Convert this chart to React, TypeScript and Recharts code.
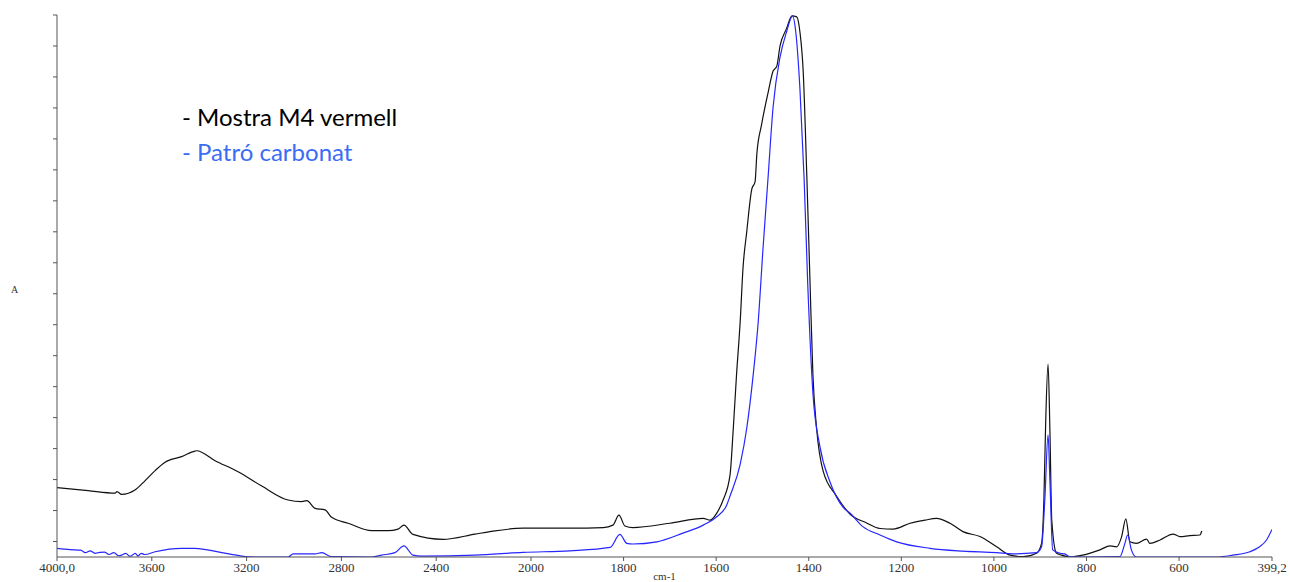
import { Line, LineChart, XAxis, YAxis } from "recharts";

// wavenumber axis: 4000-2000 is drawn compressed, like the instrument printout
const HIGH_SCALE = 0.512;
const toU = (wn: number) =>
  wn >= 2000 ? (4000 - wn) * HIGH_SCALE : 2000 * HIGH_SCALE + (2000 - wn);
const U_MAX = toU(399.2);

const xTickWn = [4000, 3600, 3200, 2800, 2400, 2000, 1800, 1600, 1400, 1200, 1000, 800, 600, 399.2];
const xTickLabels = ["4000,0", "3600", "3200", "2800", "2400", "2000", "1800", "1600", "1400", "1200", "1000", "800", "600", "399,2"];
const yTicks = [0.05, 0.15, 0.25, 0.35, 0.45, 0.55, 0.65, 0.75, 0.85, 0.95, 1.05, 1.15, 1.25, 1.35, 1.45, 1.55, 1.65, 1.75];

// Mostra M4 vermell
const sampleWn = [
  4000, 3869, 3755, 3747, 3727, 3671, 3629, 3586, 3544, 3474, 3418, 3411, 3333, 3236, 3136, 3025, 2968, 2946,
  2911, 2869, 2841, 2772, 2672, 2603, 2561, 2536, 2498, 2371, 2236, 2173, 2034, 1916, 1844, 1823, 1810, 1797,
  1780, 1700, 1628, 1613, 1599, 1585, 1570, 1563, 1556, 1548, 1542, 1534, 1523, 1516, 1512, 1502, 1488, 1477,
  1469, 1462, 1448, 1436, 1426, 1419, 1412, 1404, 1397, 1391, 1383, 1369, 1340, 1311, 1275, 1246, 1218, 1181,
  1149, 1124, 1095, 1067, 1030, 994, 965, 937, 908, 897, 892, 888, 883, 879, 875, 865, 854, 836, 808, 771, 749,
  735, 724, 715, 706, 692, 670, 663, 641, 613, 598, 577, 555, 551,
];
const sampleAbs = [
  0.224, 0.214, 0.206, 0.211, 0.202, 0.216, 0.246, 0.279, 0.306, 0.324, 0.342, 0.343, 0.311, 0.275, 0.229, 0.184, 0.179, 0.182,
  0.157, 0.152, 0.128, 0.109, 0.085, 0.085, 0.09, 0.103, 0.073, 0.057, 0.074, 0.082, 0.093, 0.093, 0.095, 0.103, 0.135, 0.1,
  0.095, 0.109, 0.125, 0.119, 0.141, 0.184, 0.265, 0.415, 0.588, 0.762, 0.933, 1.049, 1.188, 1.211, 1.303, 1.395, 1.498, 1.569,
  1.585, 1.65, 1.706, 1.747, 1.744, 1.695, 1.569, 1.222, 0.875, 0.588, 0.415, 0.278, 0.197, 0.139, 0.11, 0.092, 0.09, 0.109,
  0.119, 0.125, 0.109, 0.082, 0.066, 0.033, 0.006, 0.001, 0.012, 0.044, 0.184, 0.442, 0.623, 0.41, 0.119, 0.013, 0.006, 0, 0.006, 0.023, 0.036,
  0.033, 0.066, 0.123, 0.049, 0.044, 0.058, 0.044, 0.055, 0.074, 0.066, 0.069, 0.071, 0.084,
];

// Patró carbonat
const refWn = [
  4000, 3945, 3900, 3880, 3860, 3840, 3819, 3800, 3780, 3760, 3740, 3727, 3710, 3692, 3670, 3658, 3645, 3630,
  3586, 3474, 3418, 3305, 3221, 3165, 3025, 3004, 2911, 2883, 2841,
  2672, 2630, 2574, 2536, 2498, 2461, 2236, 2034, 1916, 1829, 1808, 1793, 1780, 1728, 1672, 1628, 1599, 1577,
  1570, 1548, 1534, 1520, 1509, 1499, 1488, 1477, 1462, 1448, 1435, 1428, 1419, 1410, 1402, 1391, 1376, 1354,
  1326, 1311, 1283, 1246, 1210, 1138, 1067, 994, 959, 908, 897, 890, 883, 879, 873, 857, 847, 836, 808, 728,
  717, 711, 703, 692, 519, 484, 447, 426, 411, 399.2,
];
const refAbs = [
  0.028, 0.024, 0.022, 0.014, 0.02, 0.012, 0.015, 0.016, 0.008, 0.014, 0.004, 0.006, 0.012, 0.002, 0.012, 0.003, 0.012, 0.008,
  0.017, 0.028, 0.028, 0.014, 0.003, 0, 0, 0.01, 0.01, 0.014, 0.001,
  0, 0.006, 0.014, 0.036, 0.006, 0.003, 0.006, 0.015, 0.02, 0.031, 0.073, 0.044, 0.042, 0.049, 0.077, 0.103, 0.13, 0.168,
  0.197, 0.3, 0.415, 0.588, 0.762, 0.991, 1.222, 1.453, 1.614, 1.695, 1.747, 1.695, 1.511, 1.222, 0.875, 0.53, 0.358, 0.242,
  0.161, 0.142, 0.098, 0.071, 0.049, 0.028, 0.019, 0.014, 0.01, 0.014, 0.033, 0.184, 0.394, 0.249, 0.023, 0.012, 0.01, 0.001, 0, 0.001,
  0.044, 0.071, 0.023, 0, 0, 0.006, 0.017, 0.033, 0.055, 0.089,
];

const sampleData = sampleWn.map((wn, i) => ({ u: toU(wn), a: sampleAbs[i] }));
const refData = refWn.map((wn, i) => ({ u: toU(wn), a: refAbs[i] }));

const axisColor = "#555";
const serif = "'Liberation Serif', 'DejaVu Serif', serif";

export default function App() {
  return (
    <div style={{ position: "absolute", left: 0, top: 0, width: 1290, height: 582, background: "#fff" }}>
      <LineChart width={1290} height={582} margin={{ top: 15, right: 18, bottom: 0, left: 27 }}>
        <XAxis
          type="number"
          dataKey="u"
          domain={[0, U_MAX]}
          ticks={xTickWn.map(toU)}
          tickFormatter={(_v: number, i: number) => xTickLabels[i]}
          height={25}
          stroke={axisColor}
          tickSize={4}
          tick={{ fill: "#333", fontSize: 13, fontFamily: serif }}
          label={{ value: "cm-1", position: "insideBottom", offset: 2, fill: "#333", fontSize: 11, fontFamily: serif }}
          allowDataOverflow
        />
        <YAxis
          type="number"
          domain={[0, 1.75]}
          ticks={yTicks}
          tickFormatter={() => ""}
          width={30}
          stroke={axisColor}
          tickSize={4}
          allowDataOverflow
        />
        <Line
          data={sampleData}
          dataKey="a"
          type="monotone"
          stroke="#111"
          strokeWidth={1.2}
          dot={false}
          isAnimationActive={false}
        />
        <Line
          data={refData}
          dataKey="a"
          type="monotone"
          stroke="#2626ff"
          strokeWidth={1.2}
          dot={false}
          isAnimationActive={false}
        />
      </LineChart>
      <div
        style={{
          position: "absolute",
          left: 11,
          top: 284,
          fontFamily: serif,
          fontSize: 10,
          color: "#333",
        }}
      >
        A
      </div>
      <div
        style={{
          position: "absolute",
          left: 182,
          top: 99,
          fontFamily: "Lato, 'Open Sans', sans-serif",
          fontSize: 24,
          lineHeight: "35px",
        }}
      >
        <div style={{ color: "#000" }}>- Mostra M4 vermell</div>
        <div style={{ color: "#3a6cf4" }}>- Patró carbonat</div>
      </div>
    </div>
  );
}
